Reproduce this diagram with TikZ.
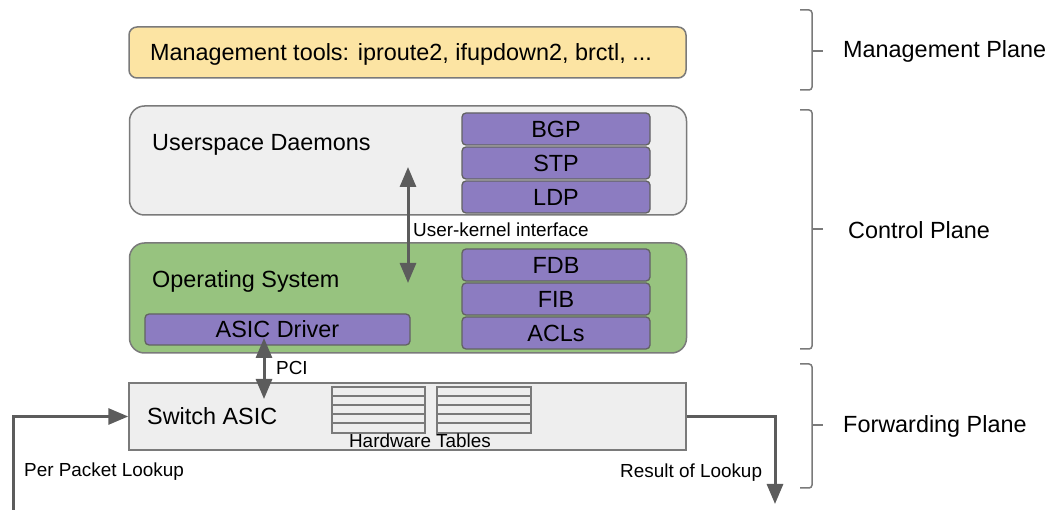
\documentclass[tikz,border=0pt]{standalone}
\usepackage{fontspec}
\setmainfont{Liberation Sans}
\usetikzlibrary{arrows.meta, positioning}

\definecolor{mgmtyellow}{HTML}{FCE4A3}
\definecolor{daemongray}{HTML}{EFEFEF}
\definecolor{asicgray}{HTML}{EEEEEE}
\definecolor{osgreen}{HTML}{97C37F}
\definecolor{modpurple}{HTML}{8C7CC1}
\definecolor{edgegray}{HTML}{7A7A7A}
\definecolor{arrowgray}{HTML}{5C5C5C}

\newcommand{\largelabel}{\fontsize{23.4}{28}\selectfont}
\newcommand{\smalllabel}{\fontsize{18.9}{22}\selectfont}

\tikzstyle{layer} = [rectangle, minimum width=557pt, inner sep=0pt, draw=edgegray, line width=1.5pt]
\tikzstyle{module} = [rectangle, rounded corners=4pt, minimum width=188pt, minimum height=32pt, inner sep=0pt, text centered, draw=edgegray!80!black, fill=modpurple, line width=1.3pt, font=\largelabel]
\tikzstyle{title} = [anchor=base west, inner sep=0pt, font=\largelabel]
\tikzstyle{caption} = [anchor=base west, inner sep=0pt, font=\smalllabel]
\tikzstyle{arrow} = [line width=3pt, arrowgray, -{Triangle[length=20pt, width=16pt]}]
\tikzstyle{twoway} = [line width=3pt, arrowgray, {Triangle[length=20pt, width=16pt]}-{Triangle[length=20pt, width=16pt]}]
\tikzstyle{brace} = [draw=edgegray, line width=1.5pt, rounded corners=3pt]
\tikzstyle{table} = [draw=edgegray, line width=1.5pt]

\begin{document}
\begin{tikzpicture}[x=1pt, y=-1pt, node distance=34pt]

    \useasboundingbox (0,0) rectangle (1050,510);

    % layers
    \node (mgmt) [layer, rounded corners=8pt, fill=mgmtyellow, minimum height=51pt] at (407.5,52.5) {};
    \node (user) [layer, rounded corners=15pt, fill=daemongray, minimum height=109pt] at (408,160.5) {};
    \node (os) [layer, rounded corners=15pt, fill=osgreen, minimum height=110pt] at (408,298) {};
    \node (asic) [layer, fill=asicgray, minimum height=67pt] at (407.5,416.5) {};

    \node (mgmttext) [title] at (150,61) {Management tools: iproute2, ifupdown2, brctl, ...};
    \node (usertext) [title] at (152,151) {Userspace Daemons};
    \node (ostext) [title] at (152,288) {Operating System};
    \node (asictext) [title] at (147,424.5) {Switch ASIC};

    % daemons
    \node (bgp) [module] at (556,129) {BGP};
    \node (stp) [module, below of=bgp] {STP};
    \node (ldp) [module, below of=stp] {LDP};

    % kernel tables
    \node (fdb) [module] at (556,265) {FDB};
    \node (fib) [module, below of=fdb] {FIB};
    \node (acls) [module, below of=fib] {ACLs};

    \node (driver) [module, minimum width=265pt, minimum height=31pt] at (277.5,329.5) {ASIC Driver};

    % hardware tables
    \draw[table] (332,387) rectangle (425,433);
    \draw[table] (437,387) rectangle (531,433);
    \foreach \y in {396,405,414,423} {
        \draw[table] (332,\y) -- (425,\y);
        \draw[table] (437,\y) -- (531,\y);
    }
    \node (hwtext) [font=\smalllabel, inner sep=0pt, anchor=base] at (420,447.5) {Hardware Tables};

    % interfaces
    \coordinate (uktop) at (408,167);
    \coordinate (ukbot) at (408,283);
    \draw[twoway] (uktop) -- (ukbot);
    \node (uklabel) [caption] at (413,237) {User-kernel interface};

    \coordinate (pcitop) at (264,338);
    \coordinate (pcibot) at (264,399);
    \draw[twoway] (pcitop) -- (pcibot);
    \node (pcilabel) [caption] at (276,375) {PCI};

    % packet path
    \coordinate (pktin) at (13,512);
    \coordinate (pktout) at (775,504);
    \draw[arrow] (pktin) |- (asic.west);
    \draw[arrow] (asic.east) -| (pktout);
    \node (inlabel) [caption] at (24,477) {Per Packet Lookup};
    \node (outlabel) [caption] at (620,478) {Result of Lookup};

    % planes
    \draw[brace] (800,10) -- (812,10) -- (812,90) -- (800,90);
    \draw[brace] (812,51) -- (823,51);
    \draw[brace] (800,110) -- (812,110) -- (812,349) -- (800,349);
    \draw[brace] (812,229) -- (823,229);
    \draw[brace] (800,364) -- (812,364) -- (812,488) -- (800,488);
    \draw[brace] (812,425) -- (823,425);

    \node (mgmtplane) [title] at (843,58) {Management Plane};
    \node (ctrlplane) [title] at (848,238.4) {Control Plane};
    \node (fwdplane) [title] at (843,433) {Forwarding Plane};

\end{tikzpicture}
\end{document}
